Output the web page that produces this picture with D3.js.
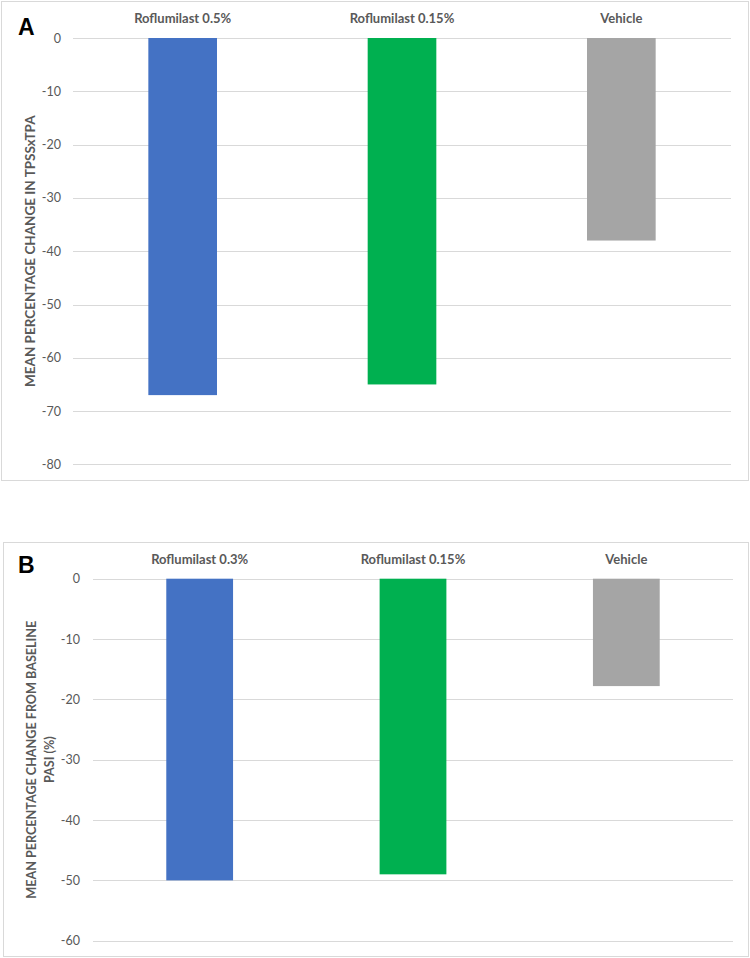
<!DOCTYPE html>
<html><head><meta charset="utf-8">
<script src="https://cdn.jsdelivr.net/npm/d3@7"></script>
<style>body{margin:0;background:#fff}svg{display:block}</style>
</head><body>
<svg id="c" width="750" height="958"></svg>
<script>
// Panel A data
const categoriesA = ["Roflumilast 0.5%", "Roflumilast 0.15%", "Vehicle"];
const valuesA = [-67, -65, -38];
const ticksA = [0, -10, -20, -30, -40, -50, -60, -70, -80];
// Panel B data
const categoriesB = ["Roflumilast 0.3%", "Roflumilast 0.15%", "Vehicle"];
const valuesB = [-50, -49, -17.8];
const ticksB = [0, -10, -20, -30, -40, -50, -60];
const colors = ["#4472C4", "#00B050", "#A5A5A5"];

const svg = d3.select("#c");
const FONT = "Lato, 'Open Sans', sans-serif";
const TXT = "#595959";

function panel(o){
  const g = svg.append("g");
  g.append("rect").attr("x", o.frame[0]).attr("y", o.frame[1])
    .attr("width", o.frame[2]-o.frame[0]).attr("height", o.frame[3]-o.frame[1])
    .attr("fill", "#fff").attr("stroke", "#d9d9d9").attr("stroke-width", 1);
  const y = d3.scaleLinear().domain([0, o.min]).range([o.top, o.bottom]);
  const x = d3.scaleBand().domain(o.cats).range([o.left, o.right]).paddingInner(0.687).paddingOuter(0.3435);
  // gridlines
  g.append("g").selectAll("line").data(o.ticks).join("line")
    .attr("x1", o.left).attr("x2", o.right)
    .attr("y1", d => Math.round(y(d))+0.5).attr("y2", d => Math.round(y(d))+0.5)
    .attr("stroke", "#d9d9d9").attr("stroke-width", 1);
  // y tick labels via axis
  const ax = g.append("g").attr("transform", `translate(${o.left},0)`)
    .call(d3.axisLeft(y).tickValues(o.ticks).tickSize(0).tickPadding(o.tickPad).tickFormat(d => String(d)));
  ax.select(".domain").remove();
  ax.selectAll("text").attr("font-family", FONT).attr("font-size", 12.5).attr("fill", TXT);
  // bars
  g.append("g").selectAll("rect").data(o.vals).join("rect")
    .attr("x", (d,i) => x(o.cats[i])).attr("width", x.bandwidth())
    .attr("y", y(0)).attr("height", d => y(d) - y(0))
    .attr("fill", (d,i) => colors[i]);
  // category labels at top
  g.append("g").selectAll("text").data(o.cats).join("text")
    .attr("x", d => x(d) + x.bandwidth()/2).attr("y", o.catY)
    .attr("text-anchor", "middle").attr("font-family", FONT).attr("font-weight", "bold")
    .attr("font-size", 13).attr("fill", TXT).text(d => d);
  // y title
  const cy = (o.top + o.bottom)/2;
  const t = g.append("text").attr("transform", `translate(${o.titleX},${cy}) rotate(-90)`)
    .attr("text-anchor", "middle").attr("font-family", FONT).attr("font-weight", "bold")
    .attr("font-size", o.titleSize).attr("fill", TXT);
  o.title.forEach((line, i) => t.append("tspan").attr("x", 0).attr("dy", i === 0 ? 0 : 18).text(line));
  // panel letter
  g.append("text").attr("x", o.letterPos[0]).attr("y", o.letterPos[1])
    .attr("font-family", "'Liberation Sans', Arial, sans-serif").attr("font-weight", "bold")
    .attr("font-size", 23).attr("fill", "#000").text(o.letter);
}

panel({frame:[1.5,1.5,748.5,480.5], top:38, bottom:464.4, left:73, right:731, min:-80,
  cats:categoriesA, vals:valuesA, ticks:ticksA, tickPad:12, catY:22.5,
  title:["MEAN PERCENTAGE CHANGE IN TPSSxTPA"], titleX:35, titleSize:13.5, letter:"A", letterPos:[18,35]});
panel({frame:[3.5,542.5,748.5,956.5], top:578.7, bottom:940.7, left:93, right:733, min:-60,
  cats:categoriesB, vals:valuesB, ticks:ticksB, tickPad:13, catY:564,
  title:["MEAN PERCENTAGE CHANGE FROM BASELINE","PASI (%)"], titleX:35.5, titleSize:12.6, letter:"B", letterPos:[18,573]});
</script>
</body></html>
